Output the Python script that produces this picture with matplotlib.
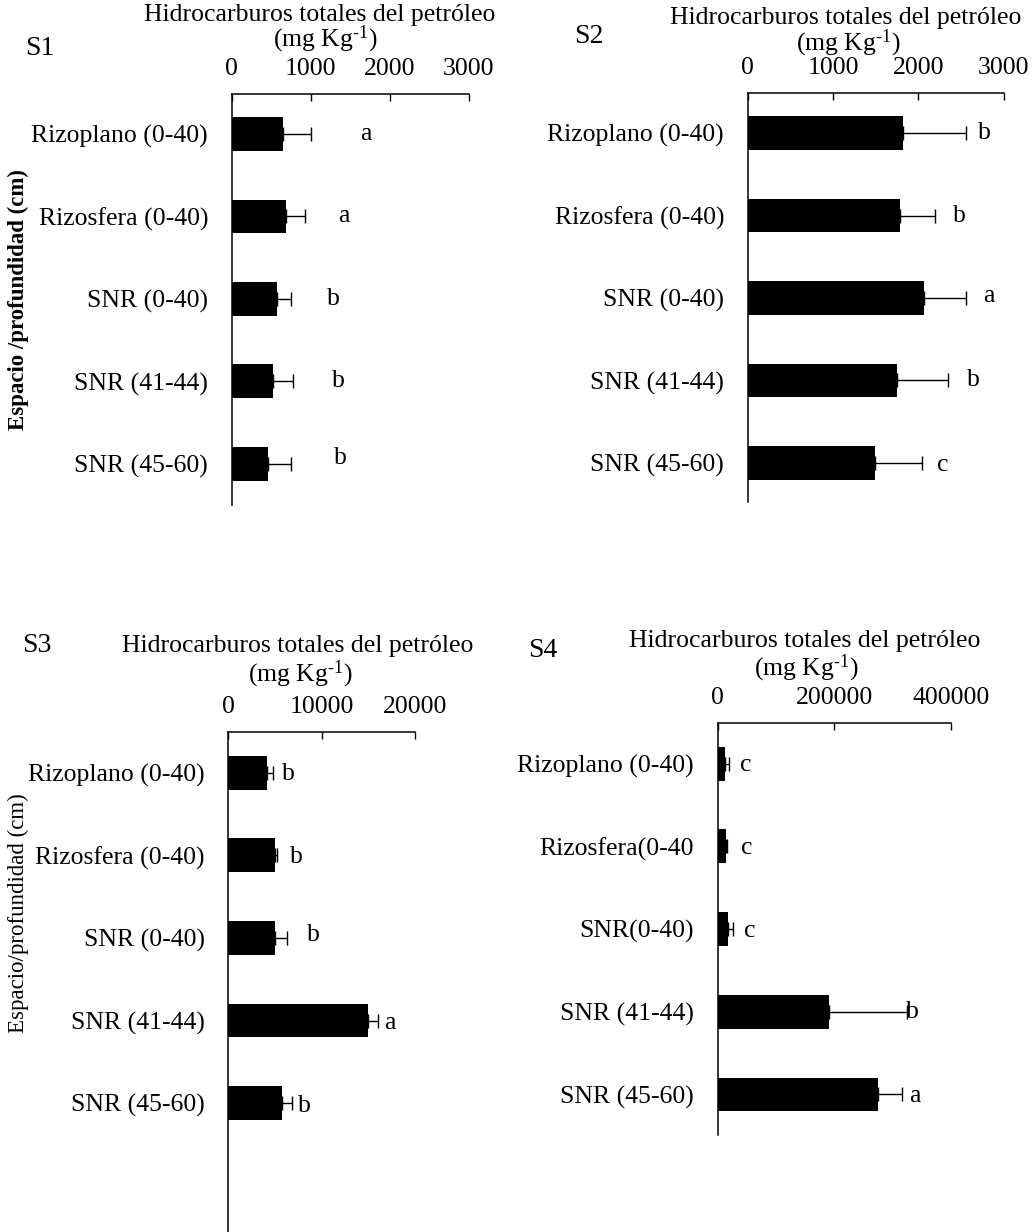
import matplotlib
matplotlib.use("Agg")
import matplotlib.pyplot as plt
import numpy as np

plt.rcParams['font.family'] = ['Liberation Serif', 'DejaVu Serif']
plt.rcParams['mathtext.fontset'] = 'custom'
plt.rcParams['mathtext.rm'] = 'Liberation Serif'
plt.rcParams['mathtext.it'] = 'Liberation Serif:italic'
plt.rcParams['mathtext.bf'] = 'Liberation Serif:bold'

W, H = 1032, 1232
FS = 18.5

# ---------------- data ----------------
cats_std = ["Rizoplano (0-40)", "Rizosfera (0-40)", "SNR (0-40)", "SNR (41-44)", "SNR (45-60)"]
cats_s4 = ["Rizoplano (0-40)", "Rizosfera(0-40", "SNR(0-40)", "SNR (41-44)", "SNR (45-60)"]

s1_vals = [653, 683, 573, 527, 456]
s1_err = [347, 241, 178, 253, 291]
s1_letters = ["a", "a", "b", "b", "b"]

s2_vals = [1817, 1789, 2071, 1750, 1496]
s2_err = [742, 407, 488, 595, 547]
s2_letters = ["b", "b", "a", "b", "c"]

s3_vals = [4116, 5037, 4966, 15005, 5788]
s3_err = [700, 210, 1357, 1000, 1072]
s3_letters = ["b", "b", "b", "a", "b"]

s4_vals = [13100, 14300, 17100, 190300, 275400]
s4_err = [6900, 2300, 8600, 134300, 40600]
s4_letters = ["c", "c", "c", "b", "a"]

s1_ticks = [0, 1000, 2000, 3000]
s2_ticks = [0, 1000, 2000, 3000]
s3_ticks = [0, 10000, 20000]
s4_ticks = [0, 200000, 400000]

# letter label placement (data x units)
s1_letter_x = [1696, 1420, 1291, 1346, 1370]
s2_letter_x = [2774, 2481, 2821, 2645, 2286]
s3_letter_x = [6431, 7331, 9110, 17256, 8113]
s4_letter_x = [48600, 50300, 54300, 334300, 338300]

fig = plt.figure(figsize=(W / 100, H / 100), dpi=100)


def px_axes(left, right, top, bottom):
    return fig.add_axes([left / W, 1 - bottom / H, (right - left) / W, (bottom - top) / H])


def draw_panel(ax, cats, vals, err, letters, letter_x, ticks, xmax, ylim, letter_dy=None):
    y = np.arange(len(cats))
    ax.barh(y, vals, height=0.41, color="black", zorder=2)
    ax.errorbar(vals, y, xerr=[np.zeros(len(vals)), err], fmt="none",
                ecolor="black", elinewidth=1.0, capsize=5, capthick=1.0, zorder=3)
    for i, (lx, t) in enumerate(zip(letter_x, letters)):
        dy = 0 if letter_dy is None else letter_dy[i]
        ax.text(lx, i + dy, t, fontsize=FS, ha="center", va="center")
    ax.set_xlim(0, xmax)
    ax.set_ylim(*ylim)
    ax.set_yticks(y)
    ax.set_yticklabels(cats, fontsize=FS)
    ax.set_xticks(ticks)
    ax.set_xticklabels([str(t) for t in ticks], fontsize=FS)
    ax.xaxis.tick_top()
    ax.tick_params(axis="x", direction="in", length=5, width=1.0, pad=10, top=True, bottom=False)
    ax.tick_params(axis="y", length=0, pad=17)
    for s in ["right", "bottom"]:
        ax.spines[s].set_visible(False)
    for s in ["left", "top"]:
        ax.spines[s].set_linewidth(1.1)
    ax.patch.set_alpha(0)


def ftext(x, y, s, **kw):
    fig.text(x / W, 1 - y / H, s, **kw)


title1 = "Hidrocarburos totales del petróleo"
title2 = r"(mg Kg$^{\text{-1}}$)"

# S1
ax1 = px_axes(231.7, 468.7, 94, 505)
draw_panel(ax1, cats_std, s1_vals, s1_err, s1_letters, s1_letter_x, s1_ticks, 3000,
           (4.5, -0.485), letter_dy=[0, 0, 0, 0, -0.07])
ftext(320, 20.7, title1, fontsize=FS, ha="center", va="baseline")
ftext(325, 46.7, title2, fontsize=FS, ha="center", va="baseline")
ftext(25, 55, "S1", fontsize=20, ha="left", va="baseline")
ftext(18, 300, "Espacio /profundidad (cm)", fontsize=16.5, fontweight="bold",
      rotation=90, ha="center", va="center")

# S2
ax2 = px_axes(747.7, 1003.7, 92.7, 501.7)
draw_panel(ax2, cats_std, s2_vals, s2_err, s2_letters, s2_letter_x, s2_ticks, 3000,
           (4.47, -0.49), letter_dy=[0, 0, -0.03, 0, 0.02])
ftext(846, 24, title1, fontsize=FS, ha="center", va="baseline")
ftext(848, 50, title2, fontsize=FS, ha="center", va="baseline")
ftext(574, 43.3, "S2", fontsize=20, ha="left", va="baseline")

# S3
ax3 = px_axes(228.3, 415, 732.3, 1232)
draw_panel(ax3, cats_std, s3_vals, s3_err, s3_letters, s3_letter_x, s3_ticks, 20000,
           (5.56, -0.49), letter_dy=[0.02, 0.02, -0.03, 0.03, 0.03])
ftext(297.5, 651.7, title1, fontsize=FS, ha="center", va="baseline")
ftext(300, 681.7, title2, fontsize=FS, ha="center", va="baseline")
ftext(21.7, 652.3, "S3", fontsize=20, ha="left", va="baseline")
ftext(18, 913, "Espacio/profundidad (cm)", fontsize=16.5,
      rotation=90, ha="center", va="center")

# S4
ax4 = px_axes(717.7, 951, 722.7, 1135)
draw_panel(ax4, cats_s4, s4_vals, s4_err, s4_letters, s4_letter_x, s4_ticks, 400000,
           (4.49, -0.495), letter_dy=[0.02, 0.02, 0.02, 0.0, 0.02])
ftext(804.7, 646.7, title1, fontsize=FS, ha="center", va="baseline")
ftext(806, 675, title2, fontsize=FS, ha="center", va="baseline")
ftext(527.7, 656.7, "S4", fontsize=20, ha="left", va="baseline")

fig.savefig("out.png", dpi=100, facecolor="white")
